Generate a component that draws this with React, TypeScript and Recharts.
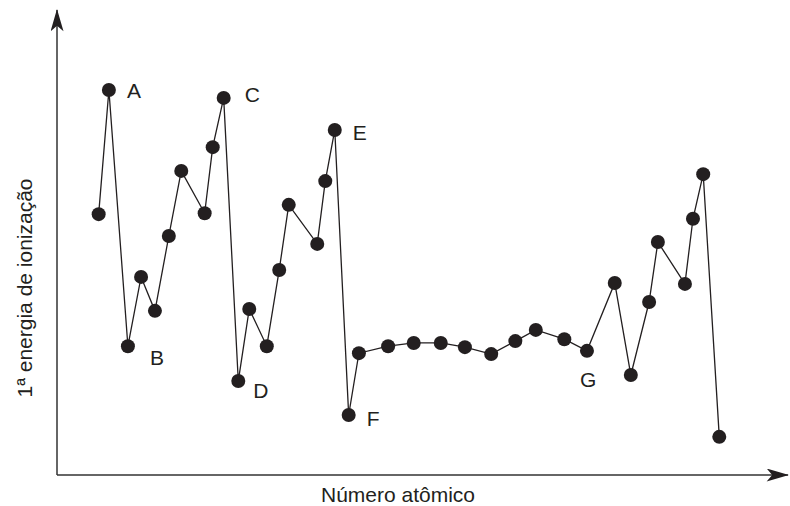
import { LineChart, Line, XAxis, YAxis, LabelList, Label } from "recharts";

// positions, in % of each axis length
const atomicPos = [
  5.7, 7.1, 9.7, 11.5, 13.4, 15.3, 17.0, 20.2, 21.3, 22.8, 24.8, 26.3, 28.7,
  30.4, 31.7, 35.6, 36.7, 38.0, 39.9, 41.3, 45.3, 48.8, 52.5, 55.8, 59.4, 62.7,
  65.5, 69.4, 72.5, 76.3, 78.5, 81.0, 82.2, 85.9, 87.0, 88.4, 90.6,
];
const ionization = [
  56.1, 82.8, 27.7, 42.6, 35.3, 51.4, 65.4, 56.3, 70.5, 81.1, 20.2, 35.7, 27.7,
  44.1, 58.1, 49.7, 63.2, 74.2, 12.9, 26.2, 27.7, 28.4, 28.4, 27.5, 26.0, 28.8,
  31.2, 29.2, 26.7, 41.3, 21.5, 37.2, 50.1, 41.1, 55.1, 64.7, 8.2,
];
const pointNames = [
  "", "A", "B", "", "", "", "", "", "", "C", "D", "", "", "", "", "", "", "E",
  "F", "", "", "", "", "", "", "", "", "", "G", "", "", "", "", "", "", "", "",
];

const data = atomicPos.map((x, i) => ({ x, y: ionization[i], name: pointNames[i] }));

// where each letter sits relative to its dot
const labelOffset: Record<string, [number, number]> = {
  A: [18, 8],
  B: [22, 19],
  C: [21, 4],
  D: [15, 17],
  E: [18, 10],
  F: [18, 11],
  G: [-7, 36],
};

const ink = "#231f20";
const font = "'Liberation Sans', Arial, sans-serif";

const PointLabel = (props: any) => {
  const { x, y, value } = props;
  if (!value) return null;
  const [dx, dy] = labelOffset[value] || [15, 8];
  return (
    <text x={x + dx} y={y + dy} fill={ink} fontSize={21} fontFamily={font}>
      {value}
    </text>
  );
};

export default function App() {
  return (
    <div style={{ position: "absolute", left: 0, top: 0, background: "#fff" }}>
      <LineChart
        width={790}
        height={506}
        data={data}
        margin={{ top: 10, right: 2, left: 56, bottom: 30 }}
      >
        <defs>
          <marker
            id="arrowHead"
            viewBox="0 0 24 14"
            markerWidth={24}
            markerHeight={13}
            refX={23}
            refY={7}
            orient="auto-start-reverse"
            markerUnits="userSpaceOnUse"
          >
            <path d="M0,0 L24,7 L0,14 L6,7 Z" fill={ink} />
          </marker>
        </defs>
        <XAxis
          type="number"
          dataKey="x"
          domain={[0, 100]}
          tick={false}
          tickLine={false}
          height={1}
          axisLine={{ stroke: "#333", strokeWidth: 1.5, markerEnd: "url(#arrowHead)" }}
        >
          <Label
            content={() => (
              <text x={398} y={502} textAnchor="middle" fill={ink} fontSize={21} fontFamily={font}>
                Número atômico
              </text>
            )}
          />
        </XAxis>
        <YAxis
          type="number"
          domain={[0, 100]}
          tick={false}
          tickLine={false}
          width={1}
          axisLine={{ stroke: "#333", strokeWidth: 1.5, markerStart: "url(#arrowHead)" }}
        >
          <Label
            content={() => (
              <text
                x={32}
                y={288}
                transform="rotate(-90 32 288)"
                textAnchor="middle"
                fill={ink}
                fontSize={21}
                fontFamily={font}
              >
                1ª energia de ionização
              </text>
            )}
          />
        </YAxis>
        <Line
          type="linear"
          dataKey="y"
          stroke={ink}
          strokeWidth={1.3}
          dot={{ r: 7, fill: ink, stroke: "none" }}
          activeDot={false}
          isAnimationActive={false}
        >
          <LabelList dataKey="name" content={PointLabel} />
        </Line>
      </LineChart>
    </div>
  );
}
